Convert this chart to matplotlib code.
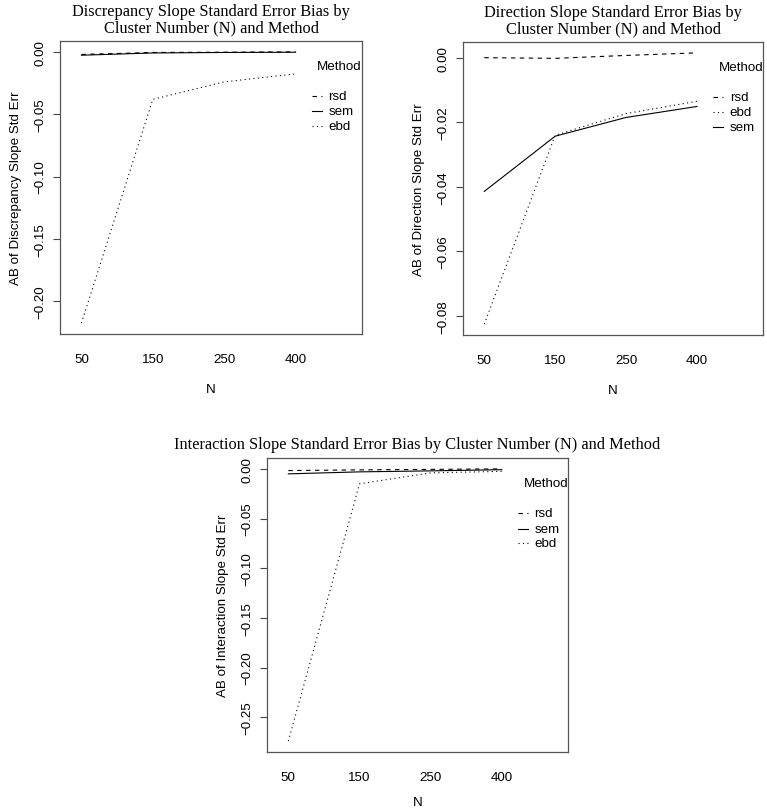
import matplotlib
matplotlib.use('Agg')
import matplotlib.pyplot as plt
from matplotlib.lines import Line2D

# cluster numbers (categorical x levels)
n_levels = ['50', '150', '250', '400']

# Discrepancy slope std err bias
disc_rsd = [-0.0020, -0.0004, -0.0002, 0.0001]
disc_sem = [-0.0026, -0.0008, -0.0004, -0.0002]
disc_ebd = [-0.2176, -0.0380, -0.0240, -0.0176]

# Direction slope std err bias
dir_rsd = [0.0000, -0.0002, 0.0007, 0.0015]
dir_ebd = [-0.0825, -0.0240, -0.0173, -0.0135]
dir_sem = [-0.0414, -0.0243, -0.0185, -0.0151]

# Interaction slope std err bias
int_rsd = [-0.0017, -0.0010, -0.0005, 0.0000]
int_sem = [-0.0050, -0.0030, -0.0020, -0.0008]
int_ebd = [-0.2740, -0.0150, -0.0040, -0.0025]

styles = {'rsd': (0, (4, 4)), 'sem': '-', 'ebd': (0, (1, 3))}

W, H = 767, 812
fig = plt.figure(figsize=(W / 100, H / 100), dpi=100)

sans = 'Liberation Sans'
serif = 'Liberation Serif'
fs = 9.6


def panel(rect, title, ylabel, series, xpad=12.5):
    l, t, r, b = rect
    ax = fig.add_axes([l / W, 1 - b / H, (r - l) / W, (b - t) / H])
    x = range(1, len(n_levels) + 1)
    for name, vals in series:
        ax.plot(x, vals, color='black', lw=0.8, linestyle=styles[name])
    ax.margins(y=0.04)
    ax.set_xlim(0.70, 4.93)
    ax.set_xticks(list(x))
    ax.set_xticklabels(n_levels, fontname=sans, fontsize=fs)
    ax.tick_params(axis='x', length=0, pad=14)
    ax.tick_params(axis='y', length=5, width=0.8, color='#444', pad=5,
                   labelrotation=90, labelsize=fs)
    for lab in ax.get_yticklabels():
        lab.set_fontname(sans)
        lab.set_va('center')
    for s in ax.spines.values():
        s.set_color('#555')
        s.set_linewidth(0.9)
    ax.set_xlabel('N', fontname=sans, fontsize=fs, labelpad=xpad)
    ax.set_ylabel(ylabel, fontname=sans, fontsize=fs, labelpad=9)
    ax.set_title(title, fontname=serif, fontsize=11.8, pad=7, linespacing=1.0)

    # legend drawn like R's interaction.plot
    ax.text(0.852, 0.915, 'Method', transform=ax.transAxes, fontname=sans,
            fontsize=fs, ha='left', va='center', clip_on=False)
    rows = [0.812, 0.760, 0.710]
    for (name, _), yy in zip(series, rows):
        ax.add_line(Line2D([0.834, 0.868], [yy, yy], transform=ax.transAxes,
                           color='black', lw=0.8, linestyle=styles[name],
                           clip_on=False))
        ax.text(0.889, yy, name, transform=ax.transAxes, fontname=sans,
                fontsize=fs, ha='left', va='center', clip_on=False)
    return ax


panel((60, 42, 362, 335),
      'Discrepancy Slope Standard Error Bias by\nCluster Number (N) and Method',
      'AB of Discrepancy Slope Std Err',
      [('rsd', disc_rsd), ('sem', disc_sem), ('ebd', disc_ebd)])

panel((463, 43, 763, 336),
      'Direction Slope Standard Error Bias by\nCluster Number (N) and Method',
      'AB of Direction Slope Std Err',
      [('rsd', dir_rsd), ('ebd', dir_ebd), ('sem', dir_sem)])

panel((267, 459, 568, 753),
      'Interaction Slope Standard Error Bias by Cluster Number (N) and Method',
      'AB of Interaction Slope Std Err',
      [('rsd', int_rsd), ('sem', int_sem), ('ebd', int_ebd)], xpad=9)

fig.savefig('out.png', dpi=100)
